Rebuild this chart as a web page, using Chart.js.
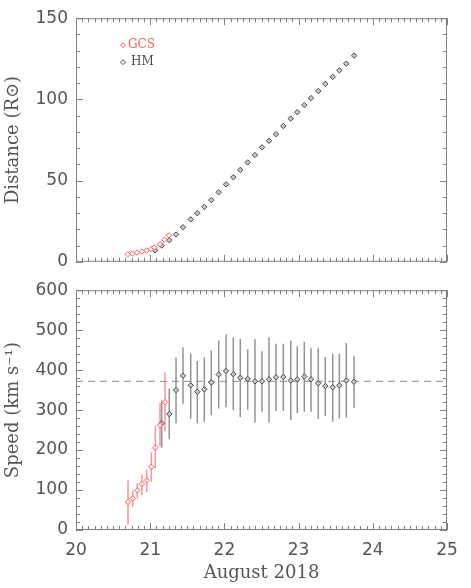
<!DOCTYPE html>
<html>
<head>
<meta charset="utf-8">
<script src="https://cdn.jsdelivr.net/npm/chart.js@4.4.0/dist/chart.umd.min.js"></script>
<style>
  html, body { margin: 0; padding: 0; background: #fff; }
  #wrap { position: relative; width: 471px; height: 588px; overflow: hidden; }
  #distChart { position: absolute; left: 0; top: 0; }
  #speedChart { position: absolute; left: 0; top: 272px; }
</style>
</head>
<body>
<div id="wrap">
  <canvas id="distChart" width="471" height="280"></canvas>
  <canvas id="speedChart" width="471" height="316"></canvas>
</div>
<script>
// Tiempos en días de agosto 2018
const gcsTime = [20.697, 20.759, 20.822, 20.889, 20.953, 21.011, 21.055, 21.132, 21.190, 21.253];
const gcsDist = [4.6, 5.1, 5.7, 6.3, 7.0, 7.8, 8.8, 10.8, 13.6, 16.3];

const hmTime = [21.065, 21.155, 21.257, 21.348, 21.442, 21.546, 21.635, 21.729, 21.823, 21.923,
                22.022, 22.120, 22.214, 22.314, 22.412, 22.507, 22.601, 22.695, 22.794, 22.894,
                22.982, 23.077, 23.167, 23.265, 23.360, 23.460, 23.549, 23.643, 23.747];
const hmDist = [7.1, 10.0, 13.3, 16.8, 21.3, 26.1, 29.9, 33.8, 38.0, 42.8,
                47.7, 52.1, 56.6, 61.2, 65.8, 70.5, 74.5, 78.6, 83.6, 88.2,
                92.1, 96.5, 100.8, 105.2, 109.6, 113.9, 117.9, 122.0, 127.0];

const gcsSpeedTime = [20.701, 20.764, 20.826, 20.889, 20.953, 21.015, 21.069, 21.132, 21.199];
const gcsSpeed     = [70, 79, 99, 115, 124, 158, 206, 262, 320];
const gcsSpeedLow  = [14, 58, 79, 87, 95, 121, 154, 209, 247];
const gcsSpeedHigh = [124, 99, 117, 139, 152, 194, 261, 318, 395];

const hmSpeedTime = [21.155, 21.257, 21.348, 21.442, 21.546, 21.635, 21.729, 21.823, 21.923, 22.022,
                     22.120, 22.214, 22.314, 22.412, 22.507, 22.601, 22.695, 22.794, 22.894, 22.982,
                     23.077, 23.167, 23.265, 23.360, 23.460, 23.549, 23.643, 23.747];
const hmSpeed     = [267, 290, 350, 386, 362, 346, 352, 369, 389, 398,
                     390, 381, 378, 372, 372, 377, 382, 383, 374, 377,
                     384, 377, 367, 360, 357, 362, 374, 371];
const hmSpeedLow  = [206, 227, 267, 316, 279, 267, 271, 287, 304, 307,
                     300, 283, 301, 269, 296, 269, 298, 298, 275, 292,
                     296, 296, 278, 285, 271, 279, 281, 305];
const hmSpeedHigh = [324, 354, 431, 457, 441, 423, 432, 449, 474, 490,
                     482, 478, 452, 478, 447, 482, 466, 466, 474, 460,
                     471, 455, 455, 433, 441, 441, 468, 436];

const meanSpeed = 372;

const dayTicks = [20, 21, 22, 23, 24, 25];
const distTicks = [0, 50, 100, 150];
const speedTicks = [0, 100, 200, 300, 400, 500, 600];

// Estilo general
const frameColor = '#808080';
const textColor = '#555555';
const gcsColor = '#ff5a5a';
const hmColor = '#4a4a4a';
const tickFont = { family: "'DejaVu Sans', sans-serif", size: 17 };
const titleFont = { family: "'DejaVu Serif', serif", size: 18 };

const toXY = (xs, ys) => xs.map((x, i) => ({ x: x, y: ys[i] }));

// Marco con marcas hacia dentro en los cuatro lados (estilo IDL)
const makeFrame = (minorStep, majorStep) => ({
    id: 'frame',
    afterDraw(chart) {
        const { ctx, chartArea: a, scales: { x, y } } = chart;
        ctx.save();
        ctx.strokeStyle = frameColor;
        ctx.lineWidth = 1;
        ctx.strokeRect(a.left + 0.5, a.top + 0.5, a.width - 1, a.height - 1);
        ctx.beginPath();
        // eje x: mayores cada día, menores cada 2 horas
        for (let k = 0; k <= 60; k++) {
            const px = Math.round(x.getPixelForValue(x.min + k / 12)) + 0.5;
            const len = (k % 12 === 0) ? 7 : 4;
            ctx.moveTo(px, a.bottom); ctx.lineTo(px, a.bottom - len);
            ctx.moveTo(px, a.top); ctx.lineTo(px, a.top + len);
        }
        // eje y
        const n = Math.round((y.max - y.min) / minorStep);
        const every = Math.round(majorStep / minorStep);
        for (let k = 0; k <= n; k++) {
            const py = Math.round(y.getPixelForValue(y.min + k * minorStep)) + 0.5;
            const len = (k % every === 0) ? 7 : 4;
            ctx.moveTo(a.left, py); ctx.lineTo(a.left + len, py);
            ctx.moveTo(a.right, py); ctx.lineTo(a.right - len, py);
        }
        ctx.stroke();
        ctx.restore();
    }
});

// Barras de error verticales
const errorBarPlugin = {
    id: 'errorBars',
    beforeDatasetsDraw(chart) {
        const { ctx, scales: { x, y } } = chart;
        ctx.save();
        chart.data.datasets.forEach(ds => {
            if (!ds.errLow) return;
            ctx.strokeStyle = ds.errColor;
            ctx.lineWidth = 1.5;
            ctx.beginPath();
            ds.data.forEach((p, i) => {
                const px = x.getPixelForValue(p.x);
                ctx.moveTo(px, y.getPixelForValue(ds.errLow[i]));
                ctx.lineTo(px, y.getPixelForValue(ds.errHigh[i]));
            });
            ctx.stroke();
        });
        ctx.restore();
    }
};

// Leyenda dentro del panel superior
const insideLegend = {
    id: 'insideLegend',
    afterDraw(chart) {
        const { ctx, chartArea: a } = chart;
        const items = [
            { text: 'GCS', color: gcsColor, dy: 27, gap: 5 },
            { text: 'HM', color: hmColor, dy: 44, gap: 8 }
        ];
        ctx.save();
        ctx.font = "12px 'DejaVu Serif', serif";
        ctx.textBaseline = 'middle';
        items.forEach(it => {
            const px = a.left + 47, py = a.top + it.dy;
            ctx.strokeStyle = it.color;
            ctx.fillStyle = '#ffffff';
            ctx.lineWidth = 1;
            Chart.helpers.drawPoint(ctx, { pointStyle: 'rectRot', radius: 2.5, borderWidth: 1 }, px, py);
            ctx.fillStyle = it.color;
            ctx.fillText(it.text, px + it.gap, py);
        });
        ctx.restore();
    }
};

const setTicks = list => scale => { scale.ticks = list.map(v => ({ value: v })); };

// Panel superior: distancia
new Chart(document.getElementById('distChart'), {
    type: 'scatter',
    data: {
        datasets: [
            {
                label: 'GCS', data: toXY(gcsTime, gcsDist),
                pointStyle: 'rectRot', pointRadius: 2.7, borderWidth: 1,
                borderColor: gcsColor, backgroundColor: 'rgba(255,255,255,0.7)'
            },
            {
                label: 'HM', data: toXY(hmTime, hmDist),
                pointStyle: 'rectRot', pointRadius: 2.7, borderWidth: 1,
                borderColor: hmColor, backgroundColor: '#c8c8c8'
            }
        ]
    },
    plugins: [makeFrame(10, 50), insideLegend],
    options: {
        responsive: false,
        animation: false,
        events: [],
        layout: { padding: { left: 0, right: 24, top: 11, bottom: 10 } },
        plugins: {
            legend: { display: false },
            tooltip: { enabled: false }
        },
        scales: {
            x: {
                type: 'linear', min: 20, max: 25,
                grid: { display: false }, border: { display: false },
                ticks: { display: false },
                afterFit: s => { s.height = 0; }
            },
            y: {
                min: 0, max: 150,
                afterBuildTicks: setTicks(distTicks),
                grid: { display: false, drawTicks: false }, border: { display: false },
                ticks: { font: tickFont, color: textColor, padding: 8 },
                title: { display: true, text: 'Distance (R\u2299)', font: titleFont, color: textColor, padding: { top: 3, bottom: 0 } },
                afterFit: s => { s.width = 76; }
            }
        }
    }
});

// Panel inferior: velocidad
new Chart(document.getElementById('speedChart'), {
    type: 'scatter',
    data: {
        datasets: [
            {
                label: 'GCS', data: toXY(gcsSpeedTime, gcsSpeed),
                errLow: gcsSpeedLow, errHigh: gcsSpeedHigh, errColor: 'rgba(255,110,110,0.75)',
                pointStyle: 'rectRot', pointRadius: 2.7, borderWidth: 1,
                borderColor: gcsColor, backgroundColor: 'rgba(255,255,255,0.7)'
            },
            {
                label: 'HM', data: toXY(hmSpeedTime, hmSpeed),
                errLow: hmSpeedLow, errHigh: hmSpeedHigh, errColor: 'rgba(120,120,120,0.8)',
                pointStyle: 'rectRot', pointRadius: 2.7, borderWidth: 1,
                borderColor: hmColor, backgroundColor: '#c8c8c8'
            },
            {
                label: 'mean', type: 'line',
                data: [{ x: 20, y: meanSpeed }, { x: 25, y: meanSpeed }],
                borderColor: '#8c8c8c', borderWidth: 1, borderDash: [7, 5],
                pointRadius: 0, fill: false
            }
        ]
    },
    plugins: [makeFrame(20, 100), errorBarPlugin],
    options: {
        responsive: false,
        animation: false,
        events: [],
        layout: { padding: { left: 0, right: 24, top: 11, bottom: 0 } },
        plugins: {
            legend: { display: false },
            tooltip: { enabled: false }
        },
        scales: {
            x: {
                type: 'linear', min: 20, max: 25,
                afterBuildTicks: setTicks(dayTicks),
                grid: { display: false, drawTicks: false }, border: { display: false },
                ticks: { font: tickFont, color: textColor, padding: 10, maxRotation: 0 },
                title: { display: true, text: 'August 2018', font: titleFont, color: textColor, padding: { top: 4, bottom: 4 } },
                afterFit: s => { s.height = 58; }
            },
            y: {
                min: 0, max: 600,
                afterBuildTicks: setTicks(speedTicks),
                grid: { display: false, drawTicks: false }, border: { display: false },
                ticks: { font: tickFont, color: textColor, padding: 8 },
                title: { display: true, text: 'Speed (km s\u207B\u00B9)', font: titleFont, color: textColor, padding: { top: 3, bottom: 0 } },
                afterFit: s => { s.width = 76; }
            }
        }
    }
});
</script>
</body>
</html>
